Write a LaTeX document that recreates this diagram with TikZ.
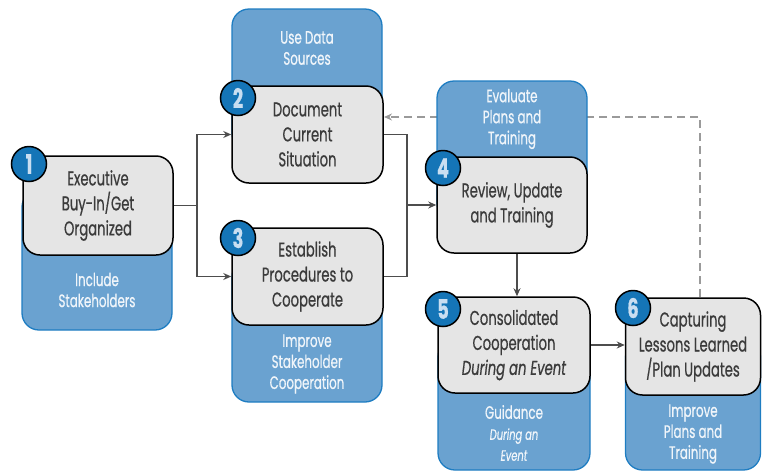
\documentclass[tikz,border=0pt]{standalone}
\usepackage{fontspec}
\setmainfont{Poppins}[FakeStretch=0.66, FakeBold=0.6]
\usetikzlibrary{arrows.meta}
\definecolor{bluefill}{HTML}{6AA2D0}
\definecolor{blueedge}{HTML}{1E7DC2}
\definecolor{greyfill}{HTML}{E5E5E5}
\definecolor{circfill}{HTML}{1575B7}
\definecolor{numcol}{HTML}{C9DEF1}
\definecolor{txt}{HTML}{3B3B3B}
\definecolor{btxt}{HTML}{F0F5FA}
\definecolor{linecol}{HTML}{4D4D4D}
\definecolor{dashcol}{HTML}{9A9A9A}
\begin{document}
\begin{tikzpicture}[x=1pt,y=-1pt,
  bluebox/.style={draw=blueedge, line width=1.3pt, fill=bluefill, rounded corners=17pt, inner sep=0pt},
  greybox/.style={draw=black, line width=1.5pt, fill=greyfill, rounded corners=17pt, inner sep=0pt,
     text=txt, align=center, font=\fontsize{20}{25}\selectfont},
  btext/.style={text=btxt, align=center, font=\fontsize{18}{21}\selectfont, inner sep=0pt},
  numcirc/.style={circle, draw=black, line width=1.5pt, fill=circfill, minimum size=35pt, inner sep=0pt,
     text=numcol, font=\fontsize{27}{27}\selectfont\bfseries},
  conn/.style={draw=linecol, line width=1.5pt},
  arr/.style={conn, -{Stealth[length=8pt,width=7pt]}},
  dasharr/.style={draw=dashcol, line width=2pt, dash pattern=on 8pt off 5pt, -{Stealth[length=8pt,width=7pt]}}
]
\useasboundingbox (0,0) rectangle (763,472);

% dashed feedback (behind boxes)
\coordinate (d1) at (700,117);
\coordinate (g6top) at (700,297);
\coordinate (g2right) at (384,117);
\draw[dasharr] (g6top) -- (d1) -- (g2right);

% blue boxes
\node[bluebox, minimum width=150pt, minimum height=140pt] (b1) at (97,260) {};
\node[bluebox, minimum width=150pt, minimum height=141pt] (b2) at (307,79.5) {};
\node[bluebox, minimum width=150pt, minimum height=142pt] (b3) at (307,331) {};
\node[bluebox, minimum width=150pt, minimum height=139pt] (b4) at (512,150.5) {};
\node[bluebox, minimum width=152pt, minimum height=130pt] (b5) at (514,405) {};
\node[bluebox, minimum width=135pt, minimum height=130pt] (b6) at (693,405) {};

% blue labels
\node[btext] (t1) at (97,290) {Include\\Stakeholders};
\node[btext] (t2) at (307,48) {Use Data\\Sources};
\node[btext] (t3) at (307,364) {Improve\\Stakeholder\\Cooperation};
\node[btext] (t4) at (512,119) {Evaluate\\Plans and\\Training};
\node[btext] (t5) at (514,433) {Guidance\\{\fontsize{15}{19}\selectfont\itshape During an}\\{\fontsize{15}{19}\selectfont\itshape Event}};
\node[btext] (t6) at (693,434) {Improve\\Plans and\\Training};

% grey boxes
\node[greybox, minimum width=150pt, minimum height=99pt] (g1) at (98,205.5) {Executive\\Buy-In/Get\\Organized};
\node[greybox, minimum width=151pt, minimum height=97pt] (g2) at (307.5,134.5) {Document\\Current\\Situation};
\node[greybox, minimum width=151pt, minimum height=97pt] (g3) at (307.5,276.5) {Establish\\Procedures to\\Cooperate};
\node[greybox, minimum width=150pt, minimum height=96pt] (g4) at (512,205) {Review, Update\\and Training};
\node[greybox, minimum width=152pt, minimum height=96pt] (g5) at (514,345) {Consolidated\\Cooperation\\\textit{During an Event}};
\node[greybox, minimum width=135pt, minimum height=97pt] (g6) at (693,346.5) {Capturing\\Lessons Learned\\/Plan Updates};

% number circles
\node[numcirc] (c1) at (29,164) {1};
\node[numcirc] (c2) at (238,98) {2};
\node[numcirc] (c3) at (238,238) {3};
\node[numcirc] (c4) at (443,168) {4};
\node[numcirc] (c5) at (443,309) {5};
\node[numcirc] (c6) at (633,308) {6};

% connectors
\coordinate (s1) at (197,205.5);
\draw[conn] (g1.east) -- (s1);
\draw[arr] (s1) |- (g2.west);
\draw[arr] (s1) |- (g3.west);
\coordinate (j1) at (407,205);
\draw[conn] (g2.east) -| (j1);
\draw[conn] (g3.east) -| (j1);
\draw[arr] (j1) -- (g4.west);
\coordinate (v1) at (517,253);
\draw[arr] (g4.south -| v1) -- (g5.north -| v1);
\draw[arr] (g5.east) -- (g5.east -| g6.west);
\end{tikzpicture}
\end{document}
